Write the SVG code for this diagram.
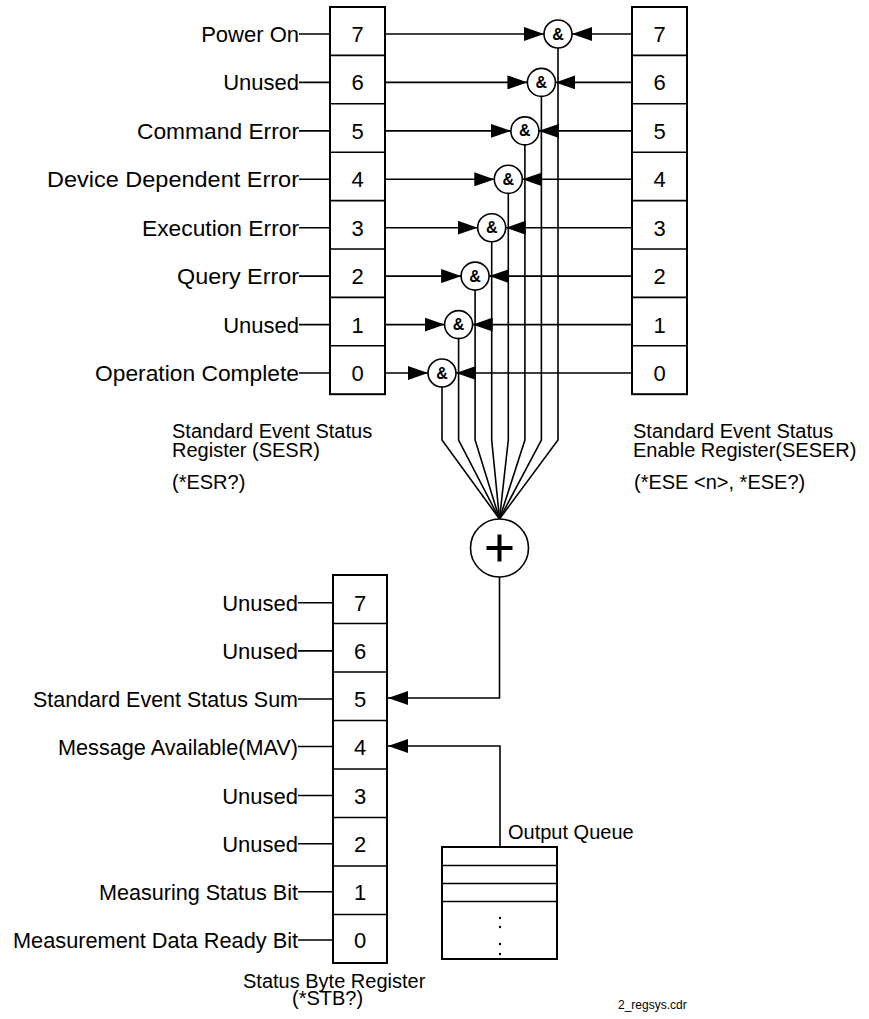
<svg xmlns="http://www.w3.org/2000/svg" width="869" height="1019" viewBox="0 0 869 1019">
<style>
text{font-family:"Liberation Sans",Arial,sans-serif;fill:#000}
.lbl{font-size:22px;text-anchor:end}
.dig{font-size:22px;text-anchor:middle}
.cap{font-size:20px}
.amp{font-size:16px;font-weight:bold;text-anchor:middle}
.box{fill:#fff;stroke:#000;stroke-width:2}
.ln{fill:none;stroke:#000;stroke-width:1.6}
.gate{fill:#fff;stroke:#000;stroke-width:1.6}
</style>
<defs>
<marker id="ah" viewBox="0 0 20 14" refX="20" refY="7" markerWidth="20" markerHeight="14" markerUnits="userSpaceOnUse" orient="auto">
<path d="M0,0 L20,7 L0,14 z" fill="#000"/>
</marker>
</defs>
<rect width="869" height="1019" fill="#fff"/>

<g id="connectors">
<path class="ln" d="M299,34H330M299,82.4H330M299,130.9H330M299,179.3H330M299,227.7H330M299,276.1H330M299,324.6H330M299,373H330"/>
<path class="ln" d="M298,602.7H333M298,650.9H333M298,699H333M298,746.5H333M298,795.5H333M298,843.7H333M298,891.8H333M298,940H333"/>
<line class="ln" x1="385" y1="34" x2="544" y2="34" marker-end="url(#ah)"/>
<line class="ln" x1="385" y1="82.4" x2="527.4" y2="82.4" marker-end="url(#ah)"/>
<line class="ln" x1="385" y1="130.9" x2="510.9" y2="130.9" marker-end="url(#ah)"/>
<line class="ln" x1="385" y1="179.3" x2="494.3" y2="179.3" marker-end="url(#ah)"/>
<line class="ln" x1="385" y1="227.7" x2="477.7" y2="227.7" marker-end="url(#ah)"/>
<line class="ln" x1="385" y1="276.1" x2="461.1" y2="276.1" marker-end="url(#ah)"/>
<line class="ln" x1="385" y1="324.6" x2="444.6" y2="324.6" marker-end="url(#ah)"/>
<line class="ln" x1="385" y1="373" x2="428" y2="373" marker-end="url(#ah)"/>
<line class="ln" x1="632" y1="34" x2="572" y2="34" marker-end="url(#ah)"/>
<line class="ln" x1="632" y1="82.4" x2="555.4" y2="82.4" marker-end="url(#ah)"/>
<line class="ln" x1="632" y1="130.9" x2="538.9" y2="130.9" marker-end="url(#ah)"/>
<line class="ln" x1="632" y1="179.3" x2="522.3" y2="179.3" marker-end="url(#ah)"/>
<line class="ln" x1="632" y1="227.7" x2="505.7" y2="227.7" marker-end="url(#ah)"/>
<line class="ln" x1="632" y1="276.1" x2="489.1" y2="276.1" marker-end="url(#ah)"/>
<line class="ln" x1="632" y1="324.6" x2="472.6" y2="324.6" marker-end="url(#ah)"/>
<line class="ln" x1="632" y1="373" x2="456" y2="373" marker-end="url(#ah)"/>
<path class="ln" d="M558,48V440L499.5,519"/>
<path class="ln" d="M541.4,96.4V440L499.5,519"/>
<path class="ln" d="M524.9,144.9V440L499.5,519"/>
<path class="ln" d="M508.3,193.3V440L499.5,519"/>
<path class="ln" d="M491.7,241.7V440L499.5,519"/>
<path class="ln" d="M475.1,290.1V440L499.5,519"/>
<path class="ln" d="M458.6,338.6V440L499.5,519"/>
<path class="ln" d="M442,387V440L499.5,519"/>
<path class="ln" d="M499.5,577V698H388" marker-end="url(#ah)"/>
<path class="ln" d="M500,847V746H388" marker-end="url(#ah)"/>
</g>

<g id="sesr">
<rect class="box" x="330" y="7" width="55" height="387.2"/>
<path class="ln" stroke-width="2" d="M330,55.4H385M330,103.8H385M330,152.2H385M330,200.6H385M330,249H385M330,297.4H385M330,345.8H385"/>
<text class="dig" x="357.5" y="42">7</text>
<text class="dig" x="357.5" y="90.4">6</text>
<text class="dig" x="357.5" y="138.9">5</text>
<text class="dig" x="357.5" y="187.3">4</text>
<text class="dig" x="357.5" y="235.7">3</text>
<text class="dig" x="357.5" y="284.1">2</text>
<text class="dig" x="357.5" y="332.6">1</text>
<text class="dig" x="357.5" y="381">0</text>
<text class="lbl" x="299" y="42">Power On</text>
<text class="lbl" x="299" y="90.4">Unused</text>
<text class="lbl" x="299" y="138.9" textLength="162" lengthAdjust="spacingAndGlyphs">Command Error</text>
<text class="lbl" x="299" y="187.3" textLength="252" lengthAdjust="spacingAndGlyphs">Device Dependent Error</text>
<text class="lbl" x="299" y="235.7" textLength="157" lengthAdjust="spacingAndGlyphs">Execution Error</text>
<text class="lbl" x="299" y="284.1" textLength="122" lengthAdjust="spacingAndGlyphs">Query Error</text>
<text class="lbl" x="299" y="332.6">Unused</text>
<text class="lbl" x="299" y="381" textLength="204" lengthAdjust="spacingAndGlyphs">Operation Complete</text>
<text class="cap" x="172" y="438"><tspan x="172" y="438">Standard Event Status</tspan><tspan x="172" y="456.5">Register (SESR)</tspan></text>
<text class="cap" x="172" y="489">(*ESR?)</text>
</g>

<g id="seser">
<rect class="box" x="632" y="7" width="55" height="387.2"/>
<path class="ln" stroke-width="2" d="M632,55.4H687M632,103.8H687M632,152.2H687M632,200.6H687M632,249H687M632,297.4H687M632,345.8H687"/>
<text class="dig" x="659.5" y="42">7</text>
<text class="dig" x="659.5" y="90.4">6</text>
<text class="dig" x="659.5" y="138.9">5</text>
<text class="dig" x="659.5" y="187.3">4</text>
<text class="dig" x="659.5" y="235.7">3</text>
<text class="dig" x="659.5" y="284.1">2</text>
<text class="dig" x="659.5" y="332.6">1</text>
<text class="dig" x="659.5" y="381">0</text>
<text class="cap" x="633" y="438"><tspan x="633" y="438">Standard Event Status</tspan><tspan x="633" y="456.5">Enable Register(SESER)</tspan></text>
<text class="cap" x="634" y="489">(*ESE &lt;n&gt;, *ESE?)</text>
</g>

<g id="and-gates">
<circle class="gate" cx="558" cy="34" r="14"/><text class="amp" x="558" y="39.5">&amp;</text>
<circle class="gate" cx="541.4" cy="82.4" r="14"/><text class="amp" x="541.4" y="87.9">&amp;</text>
<circle class="gate" cx="524.9" cy="130.9" r="14"/><text class="amp" x="524.9" y="136.4">&amp;</text>
<circle class="gate" cx="508.3" cy="179.3" r="14"/><text class="amp" x="508.3" y="184.8">&amp;</text>
<circle class="gate" cx="491.7" cy="227.7" r="14"/><text class="amp" x="491.7" y="233.2">&amp;</text>
<circle class="gate" cx="475.1" cy="276.1" r="14"/><text class="amp" x="475.1" y="281.6">&amp;</text>
<circle class="gate" cx="458.6" cy="324.6" r="14"/><text class="amp" x="458.6" y="330.1">&amp;</text>
<circle class="gate" cx="442" cy="373" r="14"/><text class="amp" x="442" y="378.5">&amp;</text>
</g>

<g id="or-gate">
<circle class="gate" cx="499.5" cy="548" r="29"/>
<path d="M486.5,548H512.5M499.5,534.5V561.5" stroke="#000" stroke-width="4" fill="none"/>
</g>

<g id="stb">
<rect class="box" x="333" y="575" width="54" height="388"/>
<path class="ln" stroke-width="2" d="M333,623.5H387M333,672H387M333,720.5H387M333,769H387M333,817.5H387M333,866H387M333,914.5H387"/>
<text class="dig" x="360" y="610.7">7</text>
<text class="dig" x="360" y="658.9">6</text>
<text class="dig" x="360" y="707">5</text>
<text class="dig" x="360" y="754.5">4</text>
<text class="dig" x="360" y="803.5">3</text>
<text class="dig" x="360" y="851.7">2</text>
<text class="dig" x="360" y="899.8">1</text>
<text class="dig" x="360" y="948">0</text>
<text class="lbl" x="298" y="610.7">Unused</text>
<text class="lbl" x="298" y="658.9">Unused</text>
<text class="lbl" x="298" y="707" textLength="265" lengthAdjust="spacingAndGlyphs">Standard Event Status Sum</text>
<text class="lbl" x="298" y="754.5" textLength="240" lengthAdjust="spacingAndGlyphs">Message Available(MAV)</text>
<text class="lbl" x="298" y="803.5">Unused</text>
<text class="lbl" x="298" y="851.7">Unused</text>
<text class="lbl" x="298" y="899.8" textLength="199" lengthAdjust="spacingAndGlyphs">Measuring Status Bit</text>
<text class="lbl" x="298" y="948" textLength="285" lengthAdjust="spacingAndGlyphs">Measurement Data Ready Bit</text>
<text class="cap"><tspan x="243" y="988">Status Byte Register</tspan><tspan x="292" y="1005">(*STB?)</tspan></text>
</g>

<g id="output-queue">
<rect class="box" x="442" y="847" width="115" height="112"/>
<path class="ln" stroke-width="2" d="M442,865.5H557M442,883.5H557M442,901.5H557"/>
<circle cx="500" cy="918" r="1.2" fill="#000"/>
<circle cx="500" cy="927" r="1.2" fill="#000"/>
<circle cx="500" cy="944" r="1.2" fill="#000"/>
<circle cx="500" cy="954" r="1.2" fill="#000"/>
<text class="cap" x="508" y="839">Output Queue</text>
</g>

<text x="618" y="1009" style="font-size:12px">2_regsys.cdr</text>
</svg>
